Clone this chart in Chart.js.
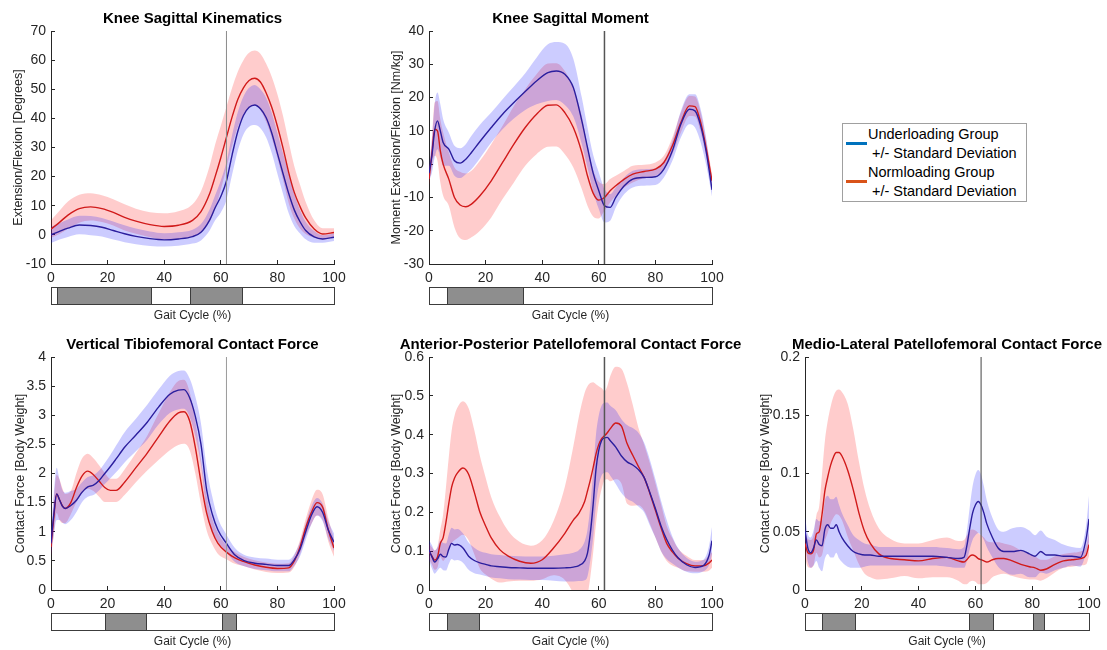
<!DOCTYPE html>
<html>
<head>
<meta charset="utf-8">
<title>Knee gait comparison</title>
<script src="https://cdn.jsdelivr.net/npm/chart.js@4.4.1/dist/chart.umd.min.js"></script>
<style>
  html, body { margin: 0; padding: 0; background: #fff; }
  #page { position: relative; width: 1107px; height: 650px; overflow: hidden; font-family: 'Liberation Sans', Arial, sans-serif; }
  #page canvas { position: absolute; }
  .legend { position: absolute; left: 842px; top: 123px; width: 185px; height: 79px; border: 1px solid #a0a0a0; box-sizing: border-box; background: #fff; }
  .legend span { position: absolute; white-space: nowrap; font-size: 14.5px; line-height: 16px; color: #000; }
  .legend i { position: absolute; left: 3px; width: 21px; height: 3px; }
</style>
</head>
<body>
<div id="page">
  <canvas id="kin"></canvas>
  <canvas id="mom"></canvas>
  <canvas id="vtf"></canvas>
  <canvas id="app"></canvas>
  <canvas id="mlp"></canvas>
  <div class="legend">
    <i style="top:18px;background:#0072BD"></i>
    <span style="left:25px;top:2px">Underloading Group</span>
    <span style="left:29px;top:21px">+/- Standard Deviation</span>
    <i style="top:56px;background:#D95319"></i>
    <span style="left:25px;top:40px">Normloading Group</span>
    <span style="left:29px;top:59px">+/- Standard Deviation</span>
  </div>
</div>
<script>
// toe-off, % of gait cycle
const toeOff = 62;

// Knee sagittal kinematics (degrees)
const kinX = [0,3,6,10,14,18,22,26,30,35,40,45,50,53,56,58,60,62,64,66,68,70,72,74,76,78,80,82,84,86,88,90,93,96,100];
const kinUnderMean = [0.0,1.2,2.3,3.4,3.2,2.6,1.5,0.4,-0.5,-1.3,-1.7,-1.4,-0.6,0.9,5.0,9.3,13.2,18.5,27.5,35.5,41,43.8,44.6,43.3,40.3,35,28,21,14.2,8.5,4.5,1.5,-0.7,-1.4,-0.8];
const kinUnderSd = [2.8,2.8,3,3.2,3.3,3.2,3.1,2.9,2.7,2.5,2.3,2.3,2.4,2.8,3.6,4.3,5.5,6.5,6.8,6.6,6.5,6.7,6.9,6.7,6.8,6.9,7,7,6.8,5.5,4,3,2,1.3,1.3];
const kinNormMean = [2.0,4.3,6.8,9.0,9.6,9.0,7.7,6.0,4.7,3.5,2.9,3.3,5.0,8.0,14.0,20,26.5,33.5,40.5,46.5,50.5,53,53.8,52.5,48.8,43.8,37.3,29.8,21.4,14.5,9.7,5.8,2.0,0.3,0.8];
const kinNormSd = [3,4,4.7,4.8,4.7,4.6,4.5,4.5,4.3,4.3,4.5,4.8,5.5,7,9.5,11,11,10.5,10,9.5,9.5,9.5,9.5,9.7,10,10.5,11,11,10.5,9,7.5,5.5,3,2,1.5];
const kinSig = [[2,35.2],[49.1,67.6]];

// Knee sagittal moment (Nm/kg)
const momX = [0,1,2,3,4,5,7,9,11,13,15,18,22,26,30,34,38,42,45,48,51,54,56,58,60,62,64,66,69,72,76,80,83,86,89,92,94,96,98,100];
const momUnderMean = [-2.7,2.3,10,13,10,6.5,4.5,1.0,0.3,1.5,3.5,6.8,11,15,18.5,21.8,25,27.5,28,27,23,13,5,-2.7,-8,-12.5,-13,-10,-6.5,-4.5,-4,-3.8,-1.5,4,12,16.5,16,11.5,3.5,-7.7];
const momUnderSd = [2,5,8,8.5,8,7,5,4.5,4.5,4.5,5,5,4.5,4.5,4.8,5.5,7,8.5,8.7,9.2,8.7,7,6,5.5,5.5,5,4,3,2.5,2.5,2.5,2.5,2.5,3,4,4.5,5,5,4,2];
const momNormMean = [-4.5,3,10.5,10,4,0,-4.5,-10,-12.3,-12.8,-12,-9.5,-5,0.5,6,11,15,17.7,17.8,15.5,11,3.5,-3.5,-8.7,-10.8,-10,-8,-6.5,-4.5,-3,-2.2,-1.5,0.5,5.5,12.5,17.5,17.3,12.5,4.5,-5];
const momNormSd = [2,4,8,9,9.5,9.5,8,9,10,10,10,10.5,11,11,11.5,11.5,12,12.5,12.5,12.5,12,11,9,7,5.5,4,3.5,3,2.5,2.5,2,2,2,2.5,3,3,3,3,2.5,2];
const momSig = [[6.4,33.1]];

// Vertical tibiofemoral contact force (BW)
const vtfX = [0,1,2,3,4,5,7,9,11,13,15,17,19,21,23,26,30,34,38,42,45,47,49,51,53,55,57,59,62,65,68,72,76,80,84,86,88,90,92,94,96,98,100];
const vtfUnderMean = [0.8,1.3,1.65,1.55,1.44,1.4,1.45,1.54,1.68,1.77,1.8,1.88,2.0,2.12,2.25,2.45,2.66,2.88,3.14,3.36,3.43,3.44,3.3,2.98,2.5,1.72,1.3,1.03,0.8,0.6,0.51,0.46,0.44,0.42,0.42,0.52,0.7,1.0,1.28,1.43,1.33,1.03,0.82];
const vtfUnderSd = [0.2,0.35,0.45,0.35,0.28,0.27,0.25,0.2,0.17,0.17,0.17,0.17,0.18,0.2,0.23,0.26,0.28,0.3,0.3,0.32,0.33,0.33,0.33,0.34,0.36,0.38,0.3,0.2,0.15,0.12,0.1,0.1,0.1,0.1,0.1,0.1,0.12,0.14,0.15,0.15,0.15,0.15,0.15];
const vtfNormMean = [0.74,1.25,1.65,1.55,1.45,1.4,1.5,1.76,1.96,2.04,1.98,1.87,1.76,1.71,1.71,1.85,2.1,2.35,2.63,2.9,3.04,3.06,2.9,2.45,1.85,1.32,1.0,0.8,0.65,0.55,0.49,0.43,0.39,0.37,0.38,0.5,0.74,1.07,1.33,1.5,1.42,1.03,0.72];
const vtfNormSd = [0.15,0.3,0.33,0.35,0.3,0.25,0.2,0.25,0.3,0.3,0.28,0.27,0.25,0.2,0.2,0.22,0.25,0.3,0.4,0.5,0.55,0.55,0.5,0.45,0.38,0.3,0.22,0.18,0.12,0.1,0.08,0.08,0.08,0.08,0.08,0.1,0.12,0.15,0.2,0.22,0.22,0.2,0.15];
const vtfSig = [[19.1,33.4],[60.5,65.2]];

// Anterior-posterior patellofemoral contact force (BW)
const appX = [0,1,2,3,4,5,6,7,8,9,10,12,14,16,18,20,22,25,28,32,36,40,44,48,51,53,55,56,57,58,59,60,61,62,63,64,66,68,70,72,74,76,78,80,82,84,86,88,91,94,97,99,100];
const appUnderMean = [0.103,0.086,0.072,0.08,0.092,0.086,0.085,0.105,0.12,0.116,0.117,0.108,0.087,0.076,0.07,0.066,0.062,0.06,0.058,0.057,0.056,0.056,0.056,0.057,0.059,0.063,0.075,0.095,0.146,0.22,0.31,0.36,0.385,0.392,0.393,0.385,0.368,0.345,0.33,0.322,0.31,0.29,0.252,0.21,0.165,0.13,0.103,0.083,0.065,0.058,0.063,0.09,0.127];
const appUnderSd = [0.025,0.03,0.03,0.03,0.035,0.035,0.035,0.038,0.04,0.04,0.04,0.038,0.035,0.033,0.03,0.03,0.03,0.03,0.03,0.03,0.03,0.03,0.032,0.035,0.037,0.04,0.05,0.06,0.07,0.085,0.09,0.09,0.09,0.09,0.09,0.09,0.095,0.095,0.095,0.095,0.095,0.09,0.085,0.075,0.065,0.05,0.035,0.025,0.018,0.015,0.015,0.025,0.035];
const appNormMean = [0.099,0.088,0.077,0.085,0.12,0.135,0.175,0.223,0.265,0.288,0.301,0.314,0.298,0.252,0.2,0.165,0.134,0.104,0.087,0.074,0.069,0.078,0.108,0.146,0.18,0.198,0.228,0.255,0.283,0.315,0.35,0.375,0.39,0.397,0.405,0.415,0.43,0.422,0.377,0.347,0.318,0.29,0.25,0.205,0.16,0.12,0.098,0.082,0.068,0.062,0.062,0.07,0.077];
const appNormSd = [0.02,0.022,0.025,0.027,0.035,0.06,0.09,0.12,0.145,0.16,0.168,0.172,0.17,0.16,0.145,0.125,0.105,0.085,0.065,0.05,0.045,0.05,0.07,0.12,0.19,0.25,0.28,0.27,0.25,0.22,0.18,0.15,0.13,0.115,0.12,0.135,0.145,0.148,0.155,0.13,0.1,0.085,0.078,0.07,0.06,0.045,0.035,0.025,0.02,0.015,0.015,0.02,0.02];
const appSig = [[6.5,17.7]];

// Medio-lateral patellofemoral contact force (BW)
const mlpX = [0,1,2,3,4,5,6,7,8,9,10,11,12,13,15,17,19,21,23,26,30,35,40,45,50,54,56,57,58,59,60,61,62,63,64,66,68,70,73,76,79,81,83,85,88,91,94,97,99,100];
const mlpUnderMean = [0.051,0.036,0.032,0.036,0.043,0.039,0.038,0.052,0.056,0.053,0.053,0.056,0.05,0.045,0.038,0.033,0.031,0.03,0.03,0.029,0.029,0.029,0.029,0.029,0.028,0.027,0.028,0.038,0.053,0.066,0.073,0.076,0.073,0.066,0.057,0.045,0.036,0.033,0.033,0.034,0.031,0.029,0.033,0.03,0.03,0.029,0.029,0.028,0.044,0.061];
const mlpUnderSd = [0.012,0.012,0.013,0.015,0.018,0.02,0.022,0.025,0.025,0.025,0.025,0.024,0.023,0.021,0.018,0.014,0.012,0.01,0.009,0.008,0.008,0.008,0.008,0.008,0.008,0.008,0.009,0.013,0.018,0.023,0.026,0.027,0.026,0.023,0.02,0.017,0.016,0.017,0.02,0.02,0.02,0.018,0.018,0.016,0.013,0.01,0.008,0.008,0.012,0.02];
const mlpNormMean = [0.04,0.032,0.031,0.034,0.048,0.05,0.065,0.085,0.097,0.107,0.114,0.118,0.118,0.115,0.103,0.086,0.066,0.05,0.04,0.031,0.027,0.026,0.025,0.027,0.028,0.025,0.024,0.026,0.029,0.03,0.029,0.027,0.026,0.025,0.024,0.026,0.027,0.027,0.025,0.022,0.02,0.019,0.017,0.018,0.022,0.025,0.026,0.027,0.03,0.039];
const mlpNormSd = [0.012,0.012,0.012,0.013,0.016,0.022,0.035,0.043,0.048,0.05,0.052,0.053,0.054,0.055,0.057,0.052,0.044,0.036,0.029,0.022,0.017,0.014,0.015,0.016,0.017,0.017,0.019,0.021,0.022,0.022,0.022,0.022,0.021,0.02,0.018,0.015,0.014,0.013,0.013,0.012,0.011,0.01,0.009,0.008,0.007,0.006,0.006,0.006,0.008,0.01];
const mlpSig = [[6.1,17.5],[57.9,66.1],[80.2,84.2]];

const gaitTicks = 20;

Chart.defaults.font.family = "'Liberation Sans', Arial, sans-serif";
Chart.defaults.color = '#262626';
Chart.defaults.animation = false;
Chart.defaults.elements.point.radius = 0;
Chart.defaults.elements.line.cubicInterpolationMode = 'monotone';

const UNDER_LINE = '#2b1e9e';
const NORM_LINE = '#d11a1a';
const UNDER_FILL = 'rgba(0,0,255,0.2)';
const NORM_FILL = 'rgba(255,0,0,0.2)';
const AXIS = '#262626';

// grey boxes under the x axis: significant regions
const sigBar = {
  id: 'sigBar',
  afterDraw(chart, args, opts) {
    const ctx = chart.ctx;
    const xs = chart.scales.x;
    const top = Math.round(chart.chartArea.bottom + 23) + 0.5;
    const h = 17;
    const x0 = Math.round(xs.getPixelForValue(0)) + 0.5;
    const x1 = Math.round(xs.getPixelForValue(100)) + 0.5;
    ctx.save();
    ctx.fillStyle = '#fff';
    ctx.fillRect(x0, top, x1 - x0, h);
    ctx.lineWidth = 1;
    ctx.strokeStyle = '#3c3c3c';
    opts.regions.forEach(function (r) {
      let a = Math.round(xs.getPixelForValue(r[0])) + 0.5;
      let b = Math.round(xs.getPixelForValue(r[1])) + 0.5;
      ctx.fillStyle = '#8e8e8e';
      ctx.fillRect(a, top, b - a, h);
      ctx.beginPath();
      ctx.moveTo(a, top); ctx.lineTo(a, top + h);
      ctx.moveTo(b, top); ctx.lineTo(b, top + h);
      ctx.stroke();
    });
    ctx.strokeRect(x0, top, x1 - x0, h);
    ctx.restore();
  }
};

function pts(x, vals) {
  return x.map((g, i) => ({x: g, y: vals[i]}));
}

function band(x, mean, sd, color) {
  let lo = x.map((g, i) => ({x: g, y: mean[i] - sd[i]}));
  let hi = x.map((g, i) => ({x: g, y: mean[i] + sd[i]}));
  return [
    {data: lo, borderWidth: 0, fill: false, order: 10, yAxisID: 'y'},
    {data: hi, borderWidth: 0, fill: '-1', backgroundColor: color, order: 10, yAxisID: 'y'}
  ];
}

function makePlot(p) {
  let canvas = document.getElementById(p.id);
  let W = p.right - p.left + 2 * p.yw;
  canvas.width = W;
  canvas.height = 325;
  canvas.style.left = (p.left - p.yw) + 'px';
  canvas.style.top = p.top + 'px';

  let datasets = []
    .concat(band(p.x, p.underMean, p.underSd, UNDER_FILL))
    .concat(band(p.x, p.normMean, p.normSd, NORM_FILL));
  datasets.push({data: pts(p.x, p.normMean), borderColor: NORM_LINE, borderWidth: 1.4, fill: false, order: 2, yAxisID: 'y'});
  datasets.push({data: pts(p.x, p.underMean), borderColor: UNDER_LINE, borderWidth: 1.4, fill: false, order: 1, yAxisID: 'y'});
  datasets.push({
    data: [{x: toeOff, y: p.ymin}, {x: toeOff, y: p.ymax}],
    borderColor: p.markColor, borderWidth: p.markWidth, fill: false, order: 0,
    tension: 0, cubicInterpolationMode: 'default', yAxisID: 'y'
  });

  let tickFmt = v => String(Math.round(v * 1000) / 1000);

  return new Chart(canvas, {
    type: 'line',
    data: {datasets: datasets},
    plugins: [sigBar],
    options: {
      responsive: false,
      layout: {padding: 0},
      plugins: {
        legend: {display: false},
        tooltip: {enabled: false},
        title: {
          display: true,
          text: p.title,
          color: '#000',
          font: {size: 15, weight: 'bold'},
          padding: {top: 10, bottom: 3}
        },
        sigBar: {regions: p.sig}
      },
      scales: {
        x: {
          type: 'linear', min: 0, max: 100,
          afterFit: s => { s.height = 61; },
          border: {display: true, color: AXIS, width: 1},
          grid: {display: true, drawOnChartArea: false, drawTicks: true, tickLength: -4, color: AXIS},
          ticks: {stepSize: gaitTicks, padding: 9.3, font: {size: 14}, color: AXIS, callback: tickFmt},
          title: {display: true, text: 'Gait Cycle (%)', color: AXIS, font: {size: 12}, padding: {top: 0, bottom: 1.8}}
        },
        y: {
          type: 'linear', position: 'left', min: p.ymin, max: p.ymax,
          afterFit: s => { s.width = p.yw; },
          border: {display: true, color: AXIS, width: 1},
          grid: {display: true, drawOnChartArea: false, drawTicks: true, tickLength: -4, color: AXIS},
          ticks: {stepSize: p.ystep, padding: 9, font: {size: 14}, color: AXIS, callback: tickFmt},
          title: {display: true, text: p.ytitle, color: AXIS, font: {size: 12.5}, padding: {top: p.ytitlePad, bottom: 0}}
        },
        yr: {
          type: 'linear', position: 'right', display: true,
          afterFit: s => { s.width = p.yw; },
          border: {display: false},
          grid: {display: false},
          ticks: {display: false}
        }
      }
    }
  });
}

makePlot({
  id: 'kin', title: 'Knee Sagittal Kinematics', ytitle: 'Extension/Flexion [Degrees]',
  left: 51, right: 334, top: 0, yw: 51, ytitlePad: 11.2,
  ymin: -10, ymax: 70, ystep: 10, markColor: '#8a8a8a', markWidth: 1,
  x: kinX, underMean: kinUnderMean, underSd: kinUnderSd, normMean: kinNormMean, normSd: kinNormSd, sig: kinSig
});
makePlot({
  id: 'mom', title: 'Knee Sagittal Moment', ytitle: 'Moment Extension/Flexion [Nm/kg]',
  left: 429, right: 712, top: 0, yw: 50, ytitlePad: 10.5,
  ymin: -30, ymax: 40, ystep: 10, markColor: '#555555', markWidth: 1.5,
  x: momX, underMean: momUnderMean, underSd: momUnderSd, normMean: momNormMean, normSd: momNormSd, sig: momSig
});
makePlot({
  id: 'vtf', title: 'Vertical Tibiofemoral Contact Force', ytitle: 'Contact Force [Body Weight]',
  left: 51, right: 334, top: 326, yw: 51, ytitlePad: 13.3,
  ymin: 0, ymax: 4, ystep: 0.5, markColor: '#9a9a9a', markWidth: 1,
  x: vtfX, underMean: vtfUnderMean, underSd: vtfUnderSd, normMean: vtfNormMean, normSd: vtfNormSd, sig: vtfSig
});
makePlot({
  id: 'app', title: 'Anterior-Posterior Patellofemoral Contact Force', ytitle: 'Contact Force [Body Weight]',
  left: 429, right: 712, top: 326, yw: 50, ytitlePad: 10.5,
  ymin: 0, ymax: 0.6, ystep: 0.1, markColor: '#555555', markWidth: 1.5,
  x: appX, underMean: appUnderMean, underSd: appUnderSd, normMean: appNormMean, normSd: appNormSd, sig: appSig
});
makePlot({
  id: 'mlp', title: 'Medio-Lateral Patellofemoral Contact Force', ytitle: 'Contact Force [Body Weight]',
  left: 805, right: 1089, top: 326, yw: 50, ytitlePad: 3.2,
  ymin: 0, ymax: 0.2, ystep: 0.05, markColor: '#444444', markWidth: 1,
  x: mlpX, underMean: mlpUnderMean, underSd: mlpUnderSd, normMean: mlpNormMean, normSd: mlpNormSd, sig: mlpSig
});
</script>
</body>
</html>
